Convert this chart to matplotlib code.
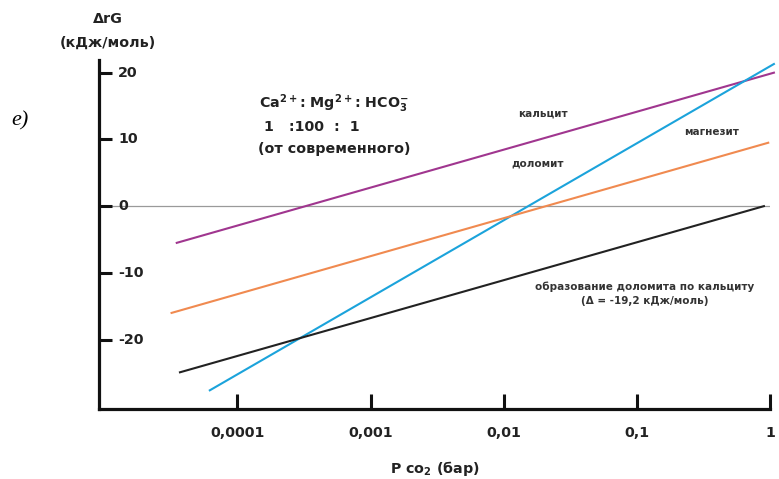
import numpy as np
import matplotlib
matplotlib.use('Agg')
from matplotlib import pyplot as plt
from matplotlib import transforms

plt.rcParams['font.family'] = ['DejaVu Sans']
plt.rcParams['font.weight'] = 'bold'
plt.rcParams['mathtext.fontset'] = 'custom'
plt.rcParams['mathtext.rm'] = 'DejaVu Sans:bold'
plt.rcParams['mathtext.it'] = 'DejaVu Sans:bold'
plt.rcParams['mathtext.bf'] = 'DejaVu Sans:bold'

# P CO2 (bar) end points and dG (kJ/mol) for each line
calcite_p = [3.5e-5, 1.07]
calcite_g = [-5.5, 20.0]
magnesite_p = [6.2e-5, 1.07]
magnesite_g = [-27.6, 21.3]
dolomite_p = [3.2e-5, 0.97]
dolomite_g = [-16.0, 9.5]
repl_p = [3.7e-5, 0.9]
repl_g = [-24.9, 0.0]

xticks = [1e-4, 1e-3, 1e-2, 1e-1, 1]
xtick_labels = ['0,0001', '0,001', '0,01', '0,1', '1']
yticks = [20, 10, 0, -10, -20]
ytick_labels = ['20', '10', '0', '-10', '-20']

W, H = 779, 479
fig = plt.figure(figsize=(W / 100, H / 100), dpi=100)
ax = fig.add_axes([99 / W, 1 - 409 / H, (770 - 99) / W, (409 - 60) / H])


def px(x, y):
    return x / W, 1 - y / H


ax.set_xscale('log')
ax.set_xlim(10 ** -5.04, 1.0)
ax.set_ylim(-30.4, 21.9)

ax.axhline(0, color='#9a9a9a', lw=0.9, zorder=1)

ax.plot(calcite_p, calcite_g, color='#a0368f', lw=1.5, clip_on=False)
ax.plot(magnesite_p, magnesite_g, color='#1ba3db', lw=1.5, clip_on=False)
ax.plot(dolomite_p, dolomite_g, color='#f08a50', lw=1.5, clip_on=False)
ax.plot(repl_p, repl_g, color='#222222', lw=1.5, clip_on=False)

for s in ['top', 'right']:
    ax.spines[s].set_visible(False)
for s in ['left', 'bottom']:
    ax.spines[s].set_linewidth(2.3)
    ax.spines[s].set_color('#111111')

ax.xaxis.set_major_locator(matplotlib.ticker.FixedLocator(xticks))
ax.xaxis.set_minor_locator(matplotlib.ticker.NullLocator())
ax.set_xticklabels(xtick_labels)
ax.tick_params(axis='x', direction='in', length=11, width=2.2, color='#111111',
               pad=12, labelsize=10.3, labelcolor='#222222')

ax.set_yticks(yticks)
ax.tick_params(axis='y', direction='in', length=9, width=2.2, color='#111111',
               labelleft=False)
trans = transforms.blended_transform_factory(ax.transAxes, ax.transData)
for v, lab in zip(yticks, ytick_labels):
    ax.text(19 / (770 - 99), v, lab, transform=trans, ha='left', va='center',
            fontsize=10.3, fontweight='bold', color='#222222')

ax.set_xlabel('P co$_2$ (бар)', fontsize=10.3, fontweight='bold', labelpad=14,
              color='#222222')

fig.text(*px(108, 19), 'ΔrG', ha='center', va='center', fontsize=10.3, color='#222222')
fig.text(*px(108, 43), '(кДж/моль)', ha='center', va='center', fontsize=10.3,
         color='#222222')
fig.text(*px(11, 121), 'е)', ha='left', va='center', fontsize=16, fontweight='normal',
         style='italic', family=['Liberation Serif', 'DejaVu Serif'])

fig.text(*px(259, 104), 'Ca$^{2+}$: Mg$^{2+}$: HCO$_3^{-}$', ha='left', va='center',
         fontsize=10.3, color='#222222')
fig.text(*px(264, 127), '1   :100  :  1', ha='left', va='center',
         fontsize=10.3, color='#222222')
fig.text(*px(258, 149), '(от современного)', ha='left', va='center',
         fontsize=10.3, color='#222222')

fig.text(*px(543, 114), 'кальцит', ha='center', va='center', fontsize=7.5,
         color='#333333')
fig.text(*px(712, 132), 'магнезит', ha='center', va='center', fontsize=7.5,
         color='#333333')
fig.text(*px(538, 163), 'доломит', ha='center', va='center', fontsize=7.5,
         color='#333333')
fig.text(*px(645, 287), 'образование доломита по кальциту', ha='center', va='center',
         fontsize=7.5, color='#333333')
fig.text(*px(645, 301), '(Δ = -19,2 кДж/моль)', ha='center', va='center',
         fontsize=7.5, color='#333333')

fig.savefig('out.png', dpi=100)
